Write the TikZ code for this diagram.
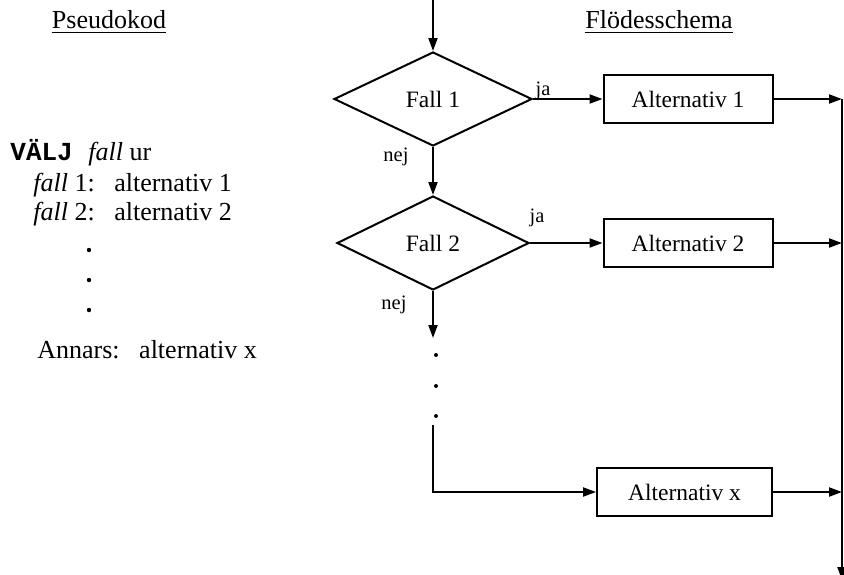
\documentclass[tikz,border=0pt]{standalone}
\usepackage{fontspec}
\setmainfont{Liberation Serif}
\newfontfamily\courbold{Liberation Mono}
\usetikzlibrary{shapes.geometric,arrows.meta,positioning}

\tikzset{
  box/.style={draw, line width=1pt, minimum width=84.5pt, minimum height=24pt, inner sep=0pt, font=\fontsize{11.75}{14}\selectfont},
  choice/.style={draw, diamond, line width=1pt, minimum width=99pt, minimum height=47pt, inner sep=0pt, font=\fontsize{11.75}{14}\selectfont},
  lbl/.style={inner sep=0pt, font=\fontsize{10.25}{12}\selectfont},
  code/.style={anchor=west, inner sep=0pt, font=\fontsize{13}{15}\selectfont},
  flow/.style={line width=1pt, -{Triangle[length=6.5pt,width=4.5pt]}},
}

\begin{document}
\begin{tikzpicture}[x=0.5pt, y=-0.5pt]
        \useasboundingbox (0,0) rectangle (844,574);

        % headings
        \node[code, anchor=center] (pseudo) at (109,22) {\underline{Pseudokod}};
        \node[code, anchor=center] (flowhead) at (659,22) {\underline{Flödesschema}};

        % pseudocode
        \node[code] (valj) at (10,153) {{\courbold\bfseries VÄLJ}\hspace{0.6em}\textit{fall} ur};
        \node[code] (case1) at (33,185) {\textit{fall} 1:\hspace{0.75em}alternativ 1};
        \node[code] (case2) at (33,214) {\textit{fall} 2:\hspace{0.75em}alternativ 2};
        \foreach \y in {250,280,310} {
          \fill (89,\y) circle (2.2);
        }
        \node[code] (annars) at (37,350) {Annars:\hspace{0.75em}alternativ x};

        % flowchart
        \coordinate (start) at (433,0);
        \node[choice] (fall1) at (433,99) {Fall 1};
        \node[choice, minimum width=96pt] (fall2) at (433,243) {Fall 2};
        \node[box] (alt1) at (688,99) {Alternativ 1};
        \node[box] (alt2) at (688,243) {Alternativ 2};
        \node[box, minimum width=87.5pt] (altx) at (684.5,492) {Alternativ x};

        \coordinate (bustop) at (842,99);
        \coordinate (busend) at (842,580);
        \coordinate (dotsin) at (433,338);
        \coordinate (dotsout) at (433,425);
        \coordinate (corner) at (433,492);

        \draw[flow] (start) -- (fall1.north);
        \draw[flow] (fall1.east) -- (alt1.west);
        \draw[flow] (fall1.south) -- (fall2.north);
        \draw[flow] (fall2.east) -- (alt2.west);
        \draw[flow] (fall2.south) -- (dotsin);
        \draw[flow] (dotsout) -- (corner) -- (altx.west);

        \foreach \y in {355,386,416} {
          \fill (436,\y) circle (2);
        }

        \draw[flow] (alt1.east) -- (bustop);
        \draw[flow] (alt2.east) -- (alt2.east -| bustop);
        \draw[flow] (altx.east) -- (altx.east -| bustop);
        \draw[flow] (bustop) -- (busend);

        % labels
        \node[lbl] (ja1) at (543,91) {ja};
        \node[lbl] (ja2) at (537,218) {ja};
        \node[lbl] (nej1) at (396,157) {nej};
        \node[lbl] (nej2) at (394,305) {nej};
\end{tikzpicture}
\end{document}
